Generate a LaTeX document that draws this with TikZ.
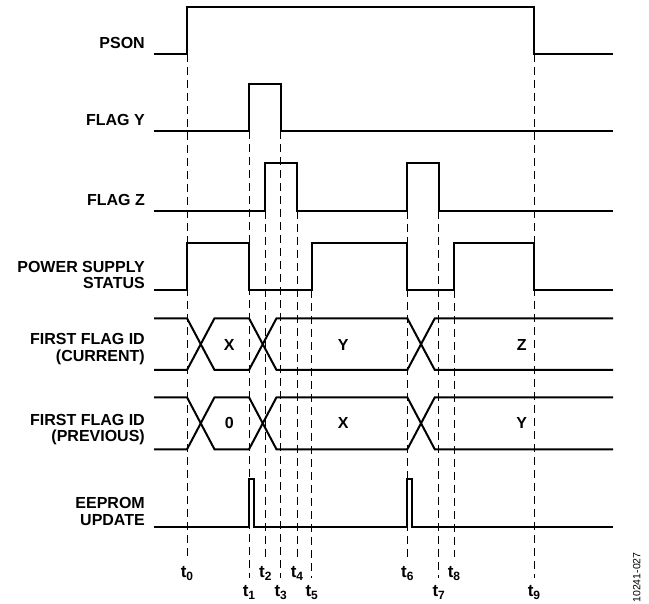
\documentclass[tikz,border=0pt]{standalone}
\usepackage{fontspec}
\setmainfont{Liberation Sans}
\newcommand\tsub[1]{t\raisebox{-3.2pt}{\fontsize{12}{12}\selectfont #1}}
\begin{document}
\begin{tikzpicture}[x=1pt,y=-1pt,
  sig/.style={line width=2pt, line join=miter, line cap=rect},
  guide/.style={line width=1pt, dash pattern=on 8pt off 5pt},
  lbl/.style={font=\bfseries\fontsize{16}{16.5}\selectfont, inner sep=0pt},
  tlab/.style={font=\bfseries\fontsize{17}{17}\selectfont, inner sep=0pt, anchor=base}]
\useasboundingbox (0,0) rectangle (649,604);

% time guides
\foreach \x/\ya/\yb in {187/54/557, 249/131/578, 265.3/210.7/557, 280.7/131/578,
  297/210.7/557, 311.7/290/578, 407.3/210.7/557, 438.7/210.7/578, 454/290/557, 534/54/578}
  \draw[guide] (\x,\ya) -- (\x,\yb);

% PSON
\draw[sig] (155,54) -- (187,54) -- (187,6.7) -- (534,6.7) -- (534,54) -- (612,54);
% FLAG Y
\draw[sig] (155,131) -- (249,131) -- (249,84) -- (280.7,84) -- (280.7,131) -- (612,131);
% FLAG Z
\draw[sig] (155,210.7) -- (265.3,210.7) -- (265.3,163.3) -- (297,163.3) -- (297,210.7)
  -- (407.3,210.7) -- (407.3,163.3) -- (438.7,163.3) -- (438.7,210.7) -- (612,210.7);
% POWER SUPPLY STATUS
\draw[sig] (155,290) -- (187,290) -- (187,242.7) -- (249,242.7) -- (249,290) -- (311.7,290)
  -- (311.7,242.7) -- (407.3,242.7) -- (407.3,290) -- (454,290) -- (454,242.7)
  -- (534,242.7) -- (534,290) -- (612,290);
% FIRST FLAG ID (CURRENT)
\def\T{318.3}\def\B{370}
\draw[sig] (155,\T) -- (187,\T) -- (214.5,\B) -- (249,\B) -- (276.5,\T) -- (407.3,\T) -- (434.8,\B) -- (612,\B);
\draw[sig] (155,\B) -- (187,\B) -- (214.5,\T) -- (249,\T) -- (276.5,\B) -- (407.3,\B) -- (434.8,\T) -- (612,\T);
% FIRST FLAG ID (PREVIOUS)
\def\T{397.3}\def\B{449.3}
\draw[sig] (155,\T) -- (187,\T) -- (214.5,\B) -- (249,\B) -- (276.5,\T) -- (407.3,\T) -- (434.8,\B) -- (612,\B);
\draw[sig] (155,\B) -- (187,\B) -- (214.5,\T) -- (249,\T) -- (276.5,\B) -- (407.3,\B) -- (434.8,\T) -- (612,\T);
% EEPROM UPDATE
\draw[sig] (155,527.3) -- (249,527.3) -- (249,479.3) -- (253.7,479.3) -- (253.7,527.3)
  -- (407.3,527.3) -- (407.3,479.3) -- (411.5,479.3) -- (411.5,527.3) -- (612,527.3);

% signal names
\node[lbl, anchor=base east] (npson) at (145,48.3) {PSON};
\node[lbl, anchor=base east] (nflagy) at (145,126) {FLAG Y};
\node[lbl, anchor=base east] (nflagz) at (145,206) {FLAG Z};
\node[lbl, anchor=north east, align=right] (npss) at (145,261) {POWER SUPPLY\\STATUS};
\node[lbl, anchor=north east, align=right] (ncur) at (145,333.3) {FIRST FLAG ID\\(CURRENT)};
\node[lbl, anchor=north east, align=right] (nprev) at (145,414) {FIRST FLAG ID\\(PREVIOUS)};
\node[lbl, anchor=north east, align=right] (neep) at (145,497.3) {EEPROM\\UPDATE};

% bus values
\node[lbl] (cx) at (229.3,345) {X};
\node[lbl] (cy) at (343.3,345) {Y};
\node[lbl] (cz) at (521.7,345) {Z};
\node[lbl] (p0) at (229.3,423) {0};
\node[lbl] (px) at (343.3,423) {X};
\node[lbl] (py) at (521.7,423) {Y};

% time labels
\node[tlab] (l0) at (187,577.3) {\tsub{0}};
\node[tlab] (l1) at (249,596.7) {\tsub{1}};
\node[tlab] (l2) at (265.3,577.3) {\tsub{2}};
\node[tlab] (l3) at (280.7,596.7) {\tsub{3}};
\node[tlab] (l4) at (297,577.3) {\tsub{4}};
\node[tlab] (l5) at (311.7,596.7) {\tsub{5}};
\node[tlab] (l6) at (407.3,577.3) {\tsub{6}};
\node[tlab] (l7) at (438.7,596.7) {\tsub{7}};
\node[tlab] (l8) at (454,577.3) {\tsub{8}};
\node[tlab] (l9) at (534,596.7) {\tsub{9}};

\node[rotate=90, font=\fontsize{10.5}{10.5}\selectfont, inner sep=0pt] (code) at (636.7,577.5) {10241-027};
\end{tikzpicture}
\end{document}
